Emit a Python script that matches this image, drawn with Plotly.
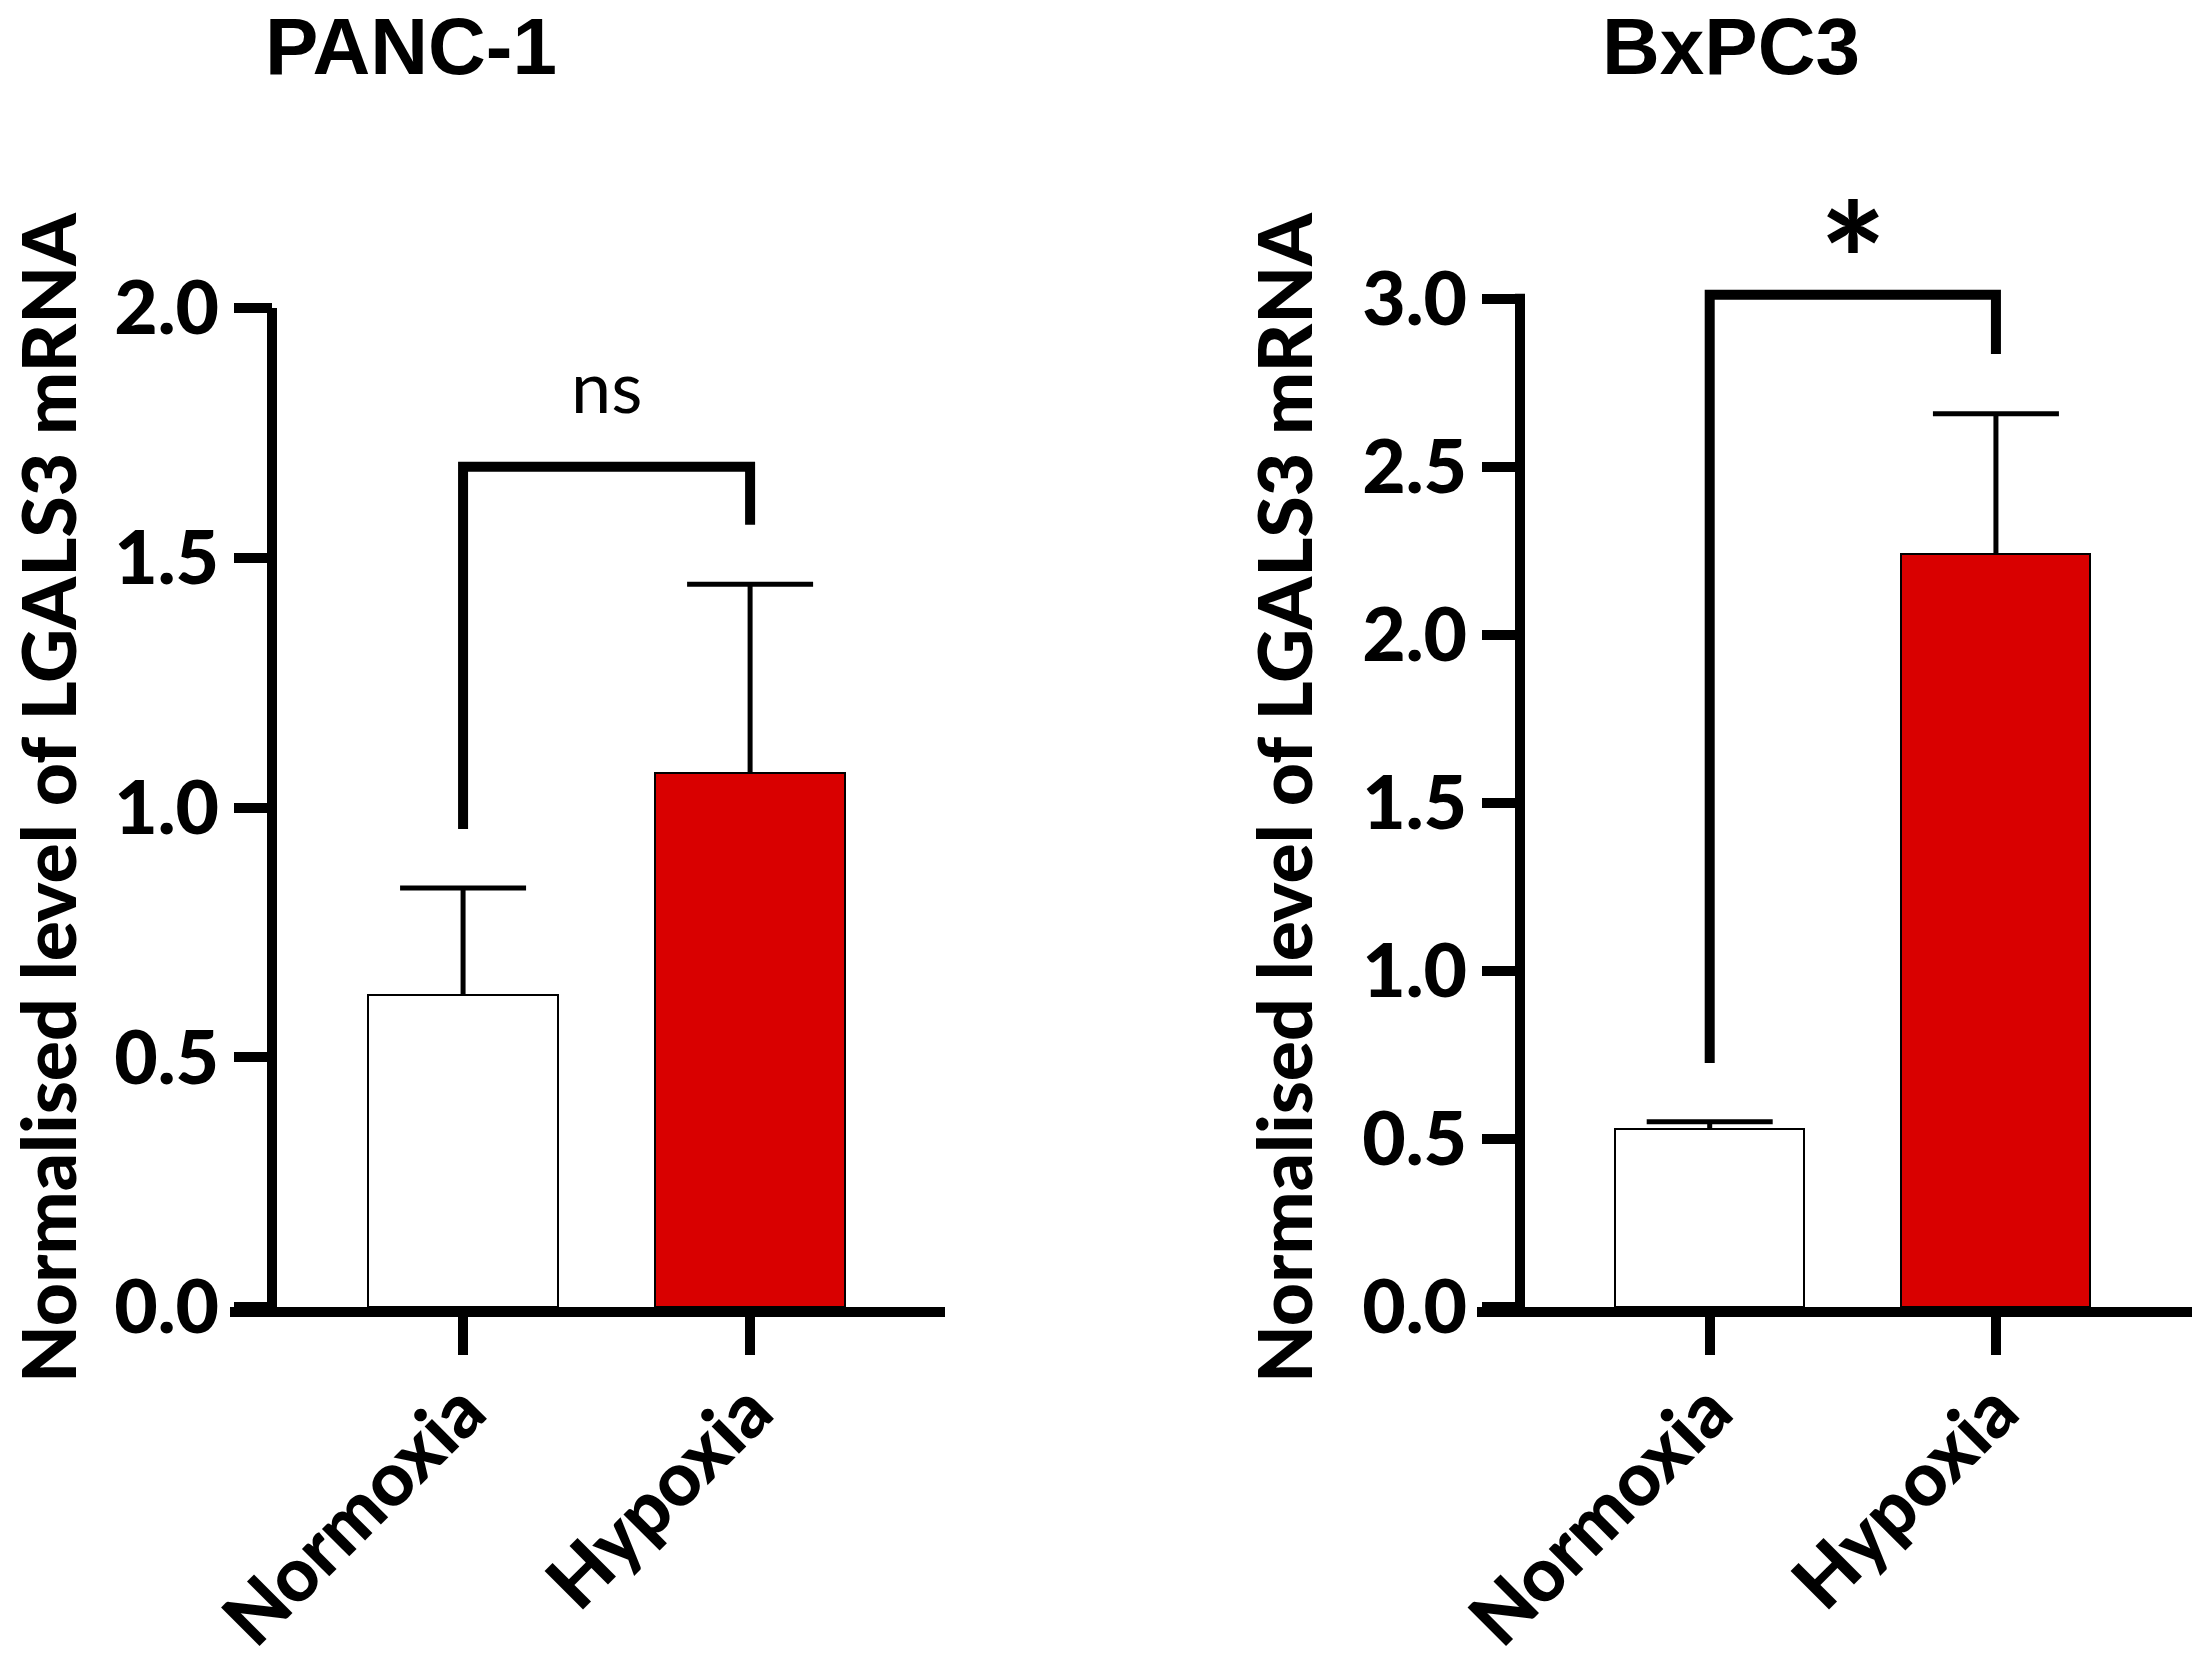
import plotly.graph_objects as go

# canvas size
W, H = 2192, 1662

# data
conditions = ["Normoxia", "Hypoxia"]
bar_colors = ["white", "#D90000"]

panc_mean = [0.624, 1.069]
panc_sd = [0.215, 0.378]

bxpc_mean = [0.530, 2.240]
bxpc_sd = [0.021, 0.418]

panc_ticks = [0.0, 0.5, 1.0, 1.5, 2.0]
bxpc_ticks = [0.0, 0.5, 1.0, 1.5, 2.0, 2.5, 3.0]

# significance brackets: (left leg bottom, top, right leg bottom), label
panc_bracket = (0.957, 1.682, 1.566)
panc_sig = "ns"
bxpc_bracket = (0.726, 3.012, 2.836)
bxpc_sig = "*"

y_title = "Normalised level of LGALS3 mRNA"


def px(x):
    return x / W


def py(y):
    return 1 - y / H


fig = go.Figure()

for mean, sd, xa, ya in [(panc_mean, panc_sd, "x", "y"), (bxpc_mean, bxpc_sd, "x2", "y2")]:
    # bars with the upper error stem only (no caps, so nothing sits on the bar top)
    fig.add_trace(go.Bar(
        x=conditions, y=mean,
        xaxis=xa, yaxis=ya,
        width=0.66,
        marker=dict(color=bar_colors, line=dict(color="black", width=2)),
        error_y=dict(type="data", symmetric=False, array=sd, arrayminus=[0, 0],
                     color="black", thickness=5, width=0),
        showlegend=False, hoverinfo="skip",
    ))
    # caps at the top of each error bar
    fig.add_trace(go.Scatter(
        x=conditions, y=[m + s for m, s in zip(mean, sd)],
        xaxis=xa, yaxis=ya, mode="markers",
        marker=dict(symbol="line-ew", size=90, color="black",
                    line=dict(color="black", width=5)),
        showlegend=False, hoverinfo="skip",
    ))

tickfont = dict(family="Lato", size=75, color="black", weight=900)
common_x = dict(type="category", showline=True, linewidth=10, linecolor="black",
                ticks="outside", ticklen=38, tickwidth=10, tickcolor="black",
                tickangle=-45, tickfont=tickfont, ticklabelstandoff=-18,
                showgrid=False, zeroline=False, automargin=False, fixedrange=True)
common_y = dict(showline=False, ticks="outside", ticklen=38, tickwidth=10,
                tickcolor="black", tickfont=tickfont, tickformat=".1f",
                showgrid=False, zeroline=False, anchor="free", automargin=False,
                fixedrange=True)

# left panel: y 0 -> 1307px, 2.0 -> 308px ; right panel: 0 -> 1307px, 3.0 -> 299px
left_axis_x, right_axis_x = 272, 1520
fig.update_layout(
    width=W, height=H,
    margin=dict(l=0, r=0, t=0, b=0, autoexpand=False),
    paper_bgcolor="white", plot_bgcolor="white",
    bargap=0,
    xaxis=dict(common_x, domain=[px(230), px(945)], anchor="y", range=[-0.812, 1.679]),
    yaxis=dict(common_y, domain=[py(1307), py(308)], range=[0, 2.0],
               tickvals=panc_ticks, position=px(left_axis_x)),
    xaxis2=dict(common_x, domain=[px(1477), 1.0], anchor="y2", range=[-0.813, 1.685]),
    yaxis2=dict(common_y, domain=[py(1307), py(198)], range=[0, 3.3],
                tickvals=bxpc_ticks, position=px(right_axis_x)),
)

# y axis lines (drawn up to the top tick only)
fig.add_shape(type="line", xref="paper", yref="y", x0=px(left_axis_x), x1=px(left_axis_x),
              y0=0, y1=panc_ticks[-1] + 0.01, line=dict(color="black", width=10))
fig.add_shape(type="line", xref="paper", yref="y2", x0=px(right_axis_x), x1=px(right_axis_x),
              y0=0, y1=bxpc_ticks[-1] + 0.015, line=dict(color="black", width=10))

# significance brackets
for (lo, top, ro), xa, ya in [(panc_bracket, "x", "y"), (bxpc_bracket, "x2", "y2")]:
    fig.add_shape(type="path", xref=xa, yref=ya,
                  path=f"M 0,{lo} L 0,{top} L 1,{top} L 1,{ro}",
                  line=dict(color="black", width=10))

fig.add_annotation(text=panc_sig, xref="x", yref="y", x=0.5, y=1.845, showarrow=False,
                   xanchor="center", font=dict(family="Lato", size=72, color="black"))
fig.add_annotation(text=bxpc_sig, xref="x2", yref="y2", x=0.5, y=3.12, showarrow=False,
                   xanchor="center",
                   font=dict(family="Lato", size=160, color="black", weight="bold"))

# panel titles, kept inside the top edge
for name, cx in [("PANC-1", 411), ("BxPC3", 1731)]:
    fig.add_annotation(text=name, xref="paper", yref="paper", x=px(cx), y=1.0,
                       showarrow=False, xanchor="center", yanchor="top",
                       font=dict(family="Liberation Sans", size=80, color="black", weight="bold"))

# y axis titles
fig.add_annotation(text=y_title, xref="paper", yref="paper", x=0.0, y=py(798),
                   showarrow=False, textangle=-90, xanchor="left", yanchor="middle",
                   font=dict(family="Lato", size=75, color="black", weight=900))
fig.add_annotation(text=y_title, xref="paper", yref="paper", x=px(1283), y=py(798),
                   showarrow=False, textangle=-90, xanchor="center", yanchor="middle",
                   font=dict(family="Lato", size=75, color="black", weight=900))

# page body has a default 8px margin; drop it so the figure sits at the window origin
fig.write_html("out.html", config={"displayModeBar": False},
               post_script="document.body.style.margin='0';")
